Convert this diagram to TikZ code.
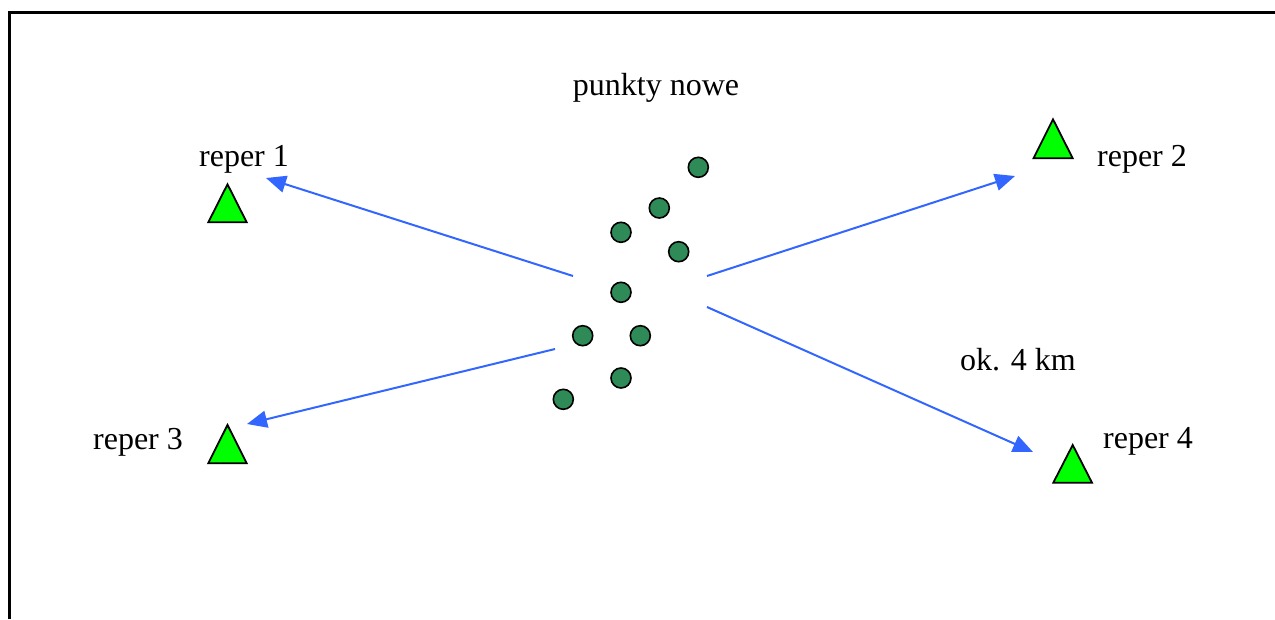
\documentclass[tikz,border=0pt]{standalone}
\usepackage{fontspec}
\setmainfont{Liberation Serif}
\usetikzlibrary{arrows.meta}
\definecolor{arrowblue}{RGB}{51,102,255}
\definecolor{ptgreen}{RGB}{46,139,87}
\definecolor{repgreen}{RGB}{0,255,0}
\begin{document}
\begin{tikzpicture}[x=1pt,y=-1pt,
  frame/.style={line width=3pt},
  lbl/.style={font=\fontsize{32}{36}\selectfont, anchor=base, inner sep=0pt},
  pt/.style={circle, draw=black, line width=1.6pt, fill=ptgreen, minimum size=20pt, inner sep=0pt},
  tri/.style={draw=black, line width=1.8pt, fill=repgreen, line join=miter},
  link/.style={draw=arrowblue, line width=2pt, -{Triangle[length=20pt,width=17pt]}}
]
\useasboundingbox (0,0) rectangle (1275,619);
% frame
\draw[frame] (9,619) -- (9,12) -- (1275,12);
% labels
\node[lbl] (title) at (656,95) {punkty nowe};
\node[lbl] (l1) at (244,166) {reper 1};
\node[lbl] (l2) at (1142,166) {reper 2};
\node[lbl] (l3) at (138,449) {reper 3};
\node[lbl] (l4) at (1148,448) {reper 4};
\node[lbl] (dist) at (1018,370) {ok. 4 km};
% reper triangles
\draw[tri] (208.3,222.3) -- (227.5,184.3) -- (246.7,222.3) -- cycle;
\draw[tri] (1033.5,158.3) -- (1053,119.3) -- (1072.7,158.3) -- cycle;
\draw[tri] (208.3,463.3) -- (227.5,425) -- (246.7,463.3) -- cycle;
\draw[tri] (1053.3,482.7) -- (1072.7,445) -- (1092,482.7) -- cycle;
% new points
\node[pt] (p1) at (698.3,167.3) {};
\node[pt] (p2) at (659.3,208) {};
\node[pt] (p3) at (621,232.3) {};
\node[pt] (p4) at (678.7,251.7) {};
\node[pt] (p5) at (621,292.3) {};
\node[pt] (p6) at (582.7,335.7) {};
\node[pt] (p7) at (640.3,335.7) {};
\node[pt] (p8) at (621,378) {};
\node[pt] (p9) at (563.3,399.3) {};
% arrow ends
\coordinate (s1) at (573,276);
\coordinate (e1) at (266,178);
\coordinate (s2) at (707,276);
\coordinate (e2) at (1015,176);
\coordinate (s3) at (555,349);
\coordinate (e3) at (247,424);
\coordinate (s4) at (707,307);
\coordinate (e4) at (1033,452);
\draw[link] (s1) -- (e1);
\draw[link] (s2) -- (e2);
\draw[link] (s3) -- (e3);
\draw[link] (s4) -- (e4);
\end{tikzpicture}
\end{document}
